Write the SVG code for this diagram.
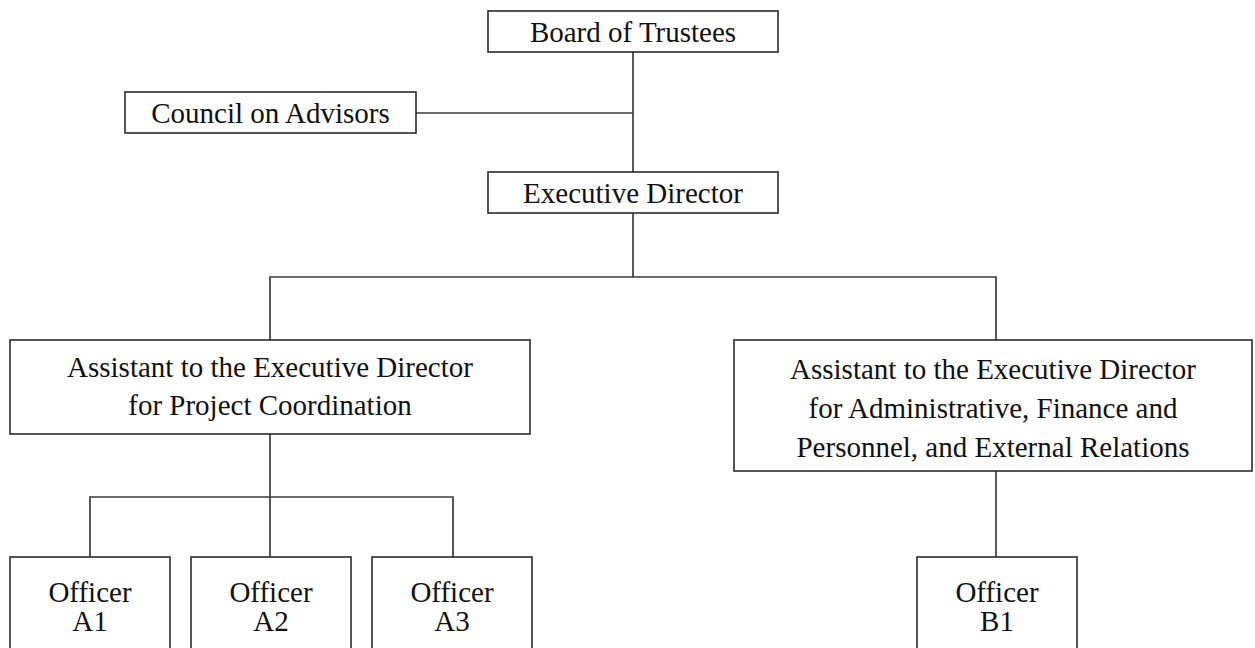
<svg xmlns="http://www.w3.org/2000/svg" width="1255" height="648" viewBox="0 0 1255 648">
<style>
.box{fill:#fff;stroke:#2b2b2b;stroke-width:1.6}
.lbl{font-family:"Liberation Serif","Times New Roman",serif;font-size:29px;fill:#111;text-anchor:middle}
.conn{fill:none;stroke:#3c3c3c;stroke-width:1.7}
</style>
<rect width="1255" height="648" fill="#fff"/>
<g id="connectors">
<line class="conn" x1="633" y1="52" x2="633" y2="172"/>
<line class="conn" x1="416" y1="113" x2="633" y2="113"/>
<line class="conn" x1="633" y1="213" x2="633" y2="277"/>
<polyline class="conn" points="270,340 270,277 996,277 996,340"/>
<line class="conn" x1="270" y1="434" x2="270" y2="557"/>
<polyline class="conn" points="90,557 90,497 453,497 453,557"/>
<line class="conn" x1="996" y1="471" x2="996" y2="557"/>
</g>
<g id="board">
<rect class="box" x="488" y="11" width="290" height="41"/>
<text class="lbl" x="633" y="42">Board of Trustees</text>
</g>
<g id="council">
<rect class="box" x="125" y="92" width="291" height="41"/>
<text class="lbl" x="270.5" y="123">Council on Advisors</text>
</g>
<g id="executive-director">
<rect class="box" x="488" y="172" width="290" height="41"/>
<text class="lbl" x="633" y="203">Executive Director</text>
</g>
<g id="assistant-project">
<rect class="box" x="10" y="340" width="520" height="94"/>
<text class="lbl" x="270" y="377">Assistant to the Executive Director</text>
<text class="lbl" x="270" y="415">for Project Coordination</text>
</g>
<g id="assistant-admin">
<rect class="box" x="734" y="340" width="518" height="131"/>
<text class="lbl" x="993" y="379">Assistant to the Executive Director</text>
<text class="lbl" x="993" y="418">for Administrative, Finance and</text>
<text class="lbl" x="993" y="457">Personnel, and External Relations</text>
</g>
<g id="officer-a1">
<rect class="box" x="10" y="557" width="160" height="110"/>
<text class="lbl" x="90" y="602">Officer</text>
<text class="lbl" x="90" y="631">A1</text>
</g>
<g id="officer-a2">
<rect class="box" x="191" y="557" width="160" height="110"/>
<text class="lbl" x="271" y="602">Officer</text>
<text class="lbl" x="271" y="631">A2</text>
</g>
<g id="officer-a3">
<rect class="box" x="372" y="557" width="160" height="110"/>
<text class="lbl" x="452" y="602">Officer</text>
<text class="lbl" x="452" y="631">A3</text>
</g>
<g id="officer-b1">
<rect class="box" x="917" y="557" width="160" height="110"/>
<text class="lbl" x="997" y="602">Officer</text>
<text class="lbl" x="997" y="631">B1</text>
</g>
</svg>
